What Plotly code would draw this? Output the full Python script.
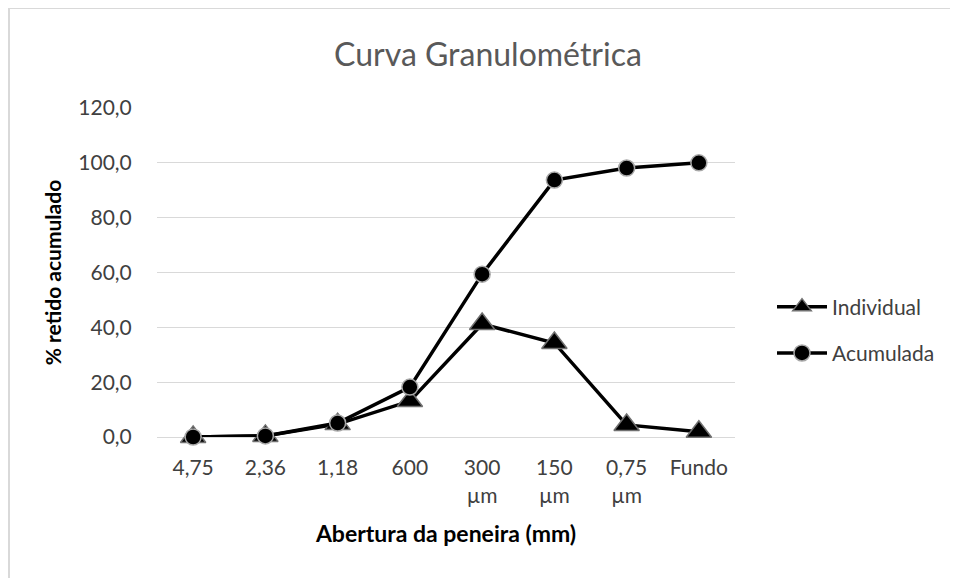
import plotly.graph_objects as go

categories = ["4,75", "2,36", "1,18", "600", "300<br>µm", "150<br>µm", "0,75<br>µm", "Fundo"]
individual = [0.0, 0.4, 4.7, 13.1, 41.2, 34.3, 4.4, 1.9]
acumulada = [0.0, 0.4, 5.1, 18.2, 59.4, 93.7, 98.1, 100.0]
y_ticks = [0, 20, 40, 60, 80, 100, 120]

FONT = "Lato"
OFF = 8  # default page body margin
W, H = 958 - OFF, 578 - OFF
L, R, T, B = 157 - OFF, 735 - OFF, 108 - OFF, 437 - OFF

fig = go.Figure()
fig.add_trace(go.Scatter(
    x=categories, y=individual, name="Individual", mode="lines+markers",
    line=dict(color="black", width=3.5),
    marker=dict(symbol="triangle-up", size=22, color="black",
                line=dict(color="#707070", width=1.5)),
    cliponaxis=False, legendgroup="a",
))
fig.add_trace(go.Scatter(
    x=categories, y=acumulada, name="Acumulada", mode="lines+markers",
    line=dict(color="black", width=3.5),
    marker=dict(symbol="circle", size=16, color="black",
                line=dict(color="#a8a8a8", width=1.5)),
    cliponaxis=False, legendgroup="b",
))


def px_x(p):
    return (p - OFF - L) / (R - L)


def px_y(p):
    return (B - (p - OFF)) / (B - T)


fig.update_layout(
    width=W, height=H,
    margin=dict(l=L, r=W - R, t=T, b=H - B, pad=0),
    paper_bgcolor="white", plot_bgcolor="white",
    separators=",.",
    font=dict(family=FONT, color="#404040", size=21),
    title=dict(text="Curva Granulométrica", x=(488 - OFF) / W, xanchor="center",
               y=1 - (55 - OFF) / H, yanchor="middle",
               font=dict(family=FONT, size=32, color="#595959")),
    xaxis=dict(
        type="category", showgrid=False, zeroline=False, showline=False,
        ticks="outside", ticklen=12, tickcolor="rgba(0,0,0,0)",
        tickfont=dict(size=21, color="#404040"),
        title=dict(text="<b>Abertura da peneira (mm)</b>",
                   font=dict(size=23, color="black"), standoff=20),
        range=[-0.5, 7.5],
    ),
    yaxis=dict(
        range=[0, 120], tickvals=y_ticks, tickformat=".1f",
        showgrid=True, gridcolor="#d9d9d9", gridwidth=1.3,
        zeroline=True, zerolinecolor="#d9d9d9", zerolinewidth=1.3,
        showline=False,
        ticks="outside", ticklen=20, tickcolor="rgba(0,0,0,0)",
        tickfont=dict(size=21, color="#404040"),
        title=dict(text="<b>% retido acumulado</b>",
                   font=dict(size=21, color="black"), standoff=10),
    ),
    legend=dict(
        x=px_x(772), xanchor="left", y=px_y(330), yanchor="middle",
        font=dict(size=21, color="#404040"), tracegroupgap=16,
        itemwidth=50, bgcolor="rgba(0,0,0,0)",
    ),
    showlegend=True,
)

fig.add_shape(type="line", xref="paper", yref="paper",
              x0=px_x(9), x1=px_x(970), y0=px_y(8), y1=px_y(8),
              line=dict(color="#d9d9d9", width=2))
fig.add_shape(type="line", xref="paper", yref="paper",
              x0=px_x(9), x1=px_x(9), y0=px_y(8), y1=px_y(590),
              line=dict(color="#d9d9d9", width=2))

fig.write_html("out.html")
